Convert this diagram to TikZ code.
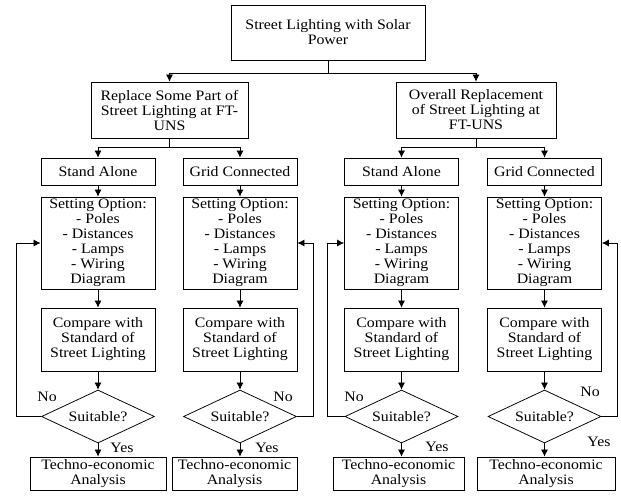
\documentclass[tikz,border=0pt]{standalone}
\usepackage{fontspec}
\setmainfont{Liberation Serif}[FakeStretch=1.1]
\usetikzlibrary{arrows.meta,calc,positioning,shapes.geometric}

\tikzset{
	txt/.style={font=\fontsize{12.3}{12.8}\selectfont},
	blk/.style={txt,draw,line width=0.65pt,align=center,inner sep=1pt,minimum width=3.42cm},
	dec/.style={txt,draw,diamond,aspect=2,line width=0.65pt,inner sep=0pt,minimum width=3.39cm,minimum height=1.59cm},
	arr/.style={-{Latex[length=6pt,width=6pt]},line width=0.65pt},
	lin/.style={line width=0.65pt}
}

\begin{document}
\begin{tikzpicture}[x=0.03cm,y=-0.03cm]
		\useasboundingbox (0,0) rectangle (621,495);
		% top and second level
		\node[blk,minimum width=5.82cm,minimum height=1.65cm] (top) at (328,32.5) {Street Lighting with Solar\\Power};
		\node[blk,minimum width=4.71cm,minimum height=1.68cm] (ra) at (169.5,110) {Replace Some Part of\\Street Lighting at FT-\\UNS};
		\node[blk,minimum width=4.8cm,minimum height=1.68cm] (rb) at (476,110) {Overall Replacement\\of Street Lighting at\\FT-UNS};
		\coordinate (j0) at (328,73);
		\coordinate (j1) at (169.5,147);
		\coordinate (j2) at (476,147);
		\draw[lin] (top) -- (j0);
		\draw[arr] (j0) -| (ra);
		\draw[arr] (j0) -| (rb);
		\draw[lin] (ra) -- (j1);
		\draw[lin] (rb) -- (j2);
		% the four columns
		\foreach \i/\x/\typ in {1/98/Stand Alone,2/240/Grid Connected,3/401.5/Stand Alone,4/544.5/Grid Connected}{
			\node[blk,minimum height=0.81cm] (s\i) at (\x,171.5) {\typ};
			\node[blk,minimum height=2.76cm] (o\i) at (\x,243) {Setting Option:\\- Poles\\- Distances\\- Lamps\\- Wiring\\Diagram};
			\node[blk,minimum height=1.89cm] (c\i) at (\x,339.5) {Compare with\\Standard of\\Street Lighting};
			\node[dec] (d\i) at (\x,416.5) {Suitable?};
			\draw[arr] (s\i) -- (o\i);
			\draw[arr] (o\i) -- (c\i);
			\draw[arr] (c\i) -- (d\i);
		}
		\draw[arr] (j1) -| (s1);
		\draw[arr] (j1) -| (s2);
		\draw[arr] (j2) -| (s3);
		\draw[arr] (j2) -| (s4);
		% results
		\node[blk,minimum width=4.08cm,minimum height=0.99cm] (t1) at (98,473.5) {Techno-economic\\Analysis};
		\node[blk,minimum width=3.75cm,minimum height=0.99cm] (t2) at (234.5,473.5) {Techno-economic\\Analysis};
		\node[blk,minimum width=3.93cm,minimum height=0.99cm] (t3) at (398.5,473.5) {Techno-economic\\Analysis};
		\node[blk,minimum width=4.14cm,minimum height=0.99cm] (t4) at (546,473.5) {Techno-economic\\Analysis};
		\foreach \i in {1,...,4}
			\draw[arr] (d\i.south) -- (d\i.south |- t\i.north);
		% loops back
		\draw[arr] (d1.west) -- ++(-25,0) |- (o1.west);
		\draw[arr] (d2.east) -- ++(16.5,0) |- (o2.east);
		\draw[arr] (d3.west) -- ++(-17,0) |- (o3.west);
		\draw[arr] (d4.east) -- ++(15.5,0) |- (o4.east);
		% labels
		\node[txt] (no1) at (47,397) {No};
		\node[txt] (no2) at (283,397) {No};
		\node[txt] (no3) at (354,397) {No};
		\node[txt] (no4) at (590,392) {No};
		\node[txt] (yes1) at (122,448) {Yes};
		\node[txt] (yes2) at (267,448) {Yes};
		\node[txt] (yes3) at (437,447) {Yes};
		\node[txt] (yes4) at (599,442) {Yes};
		\end{tikzpicture}
\end{document}
